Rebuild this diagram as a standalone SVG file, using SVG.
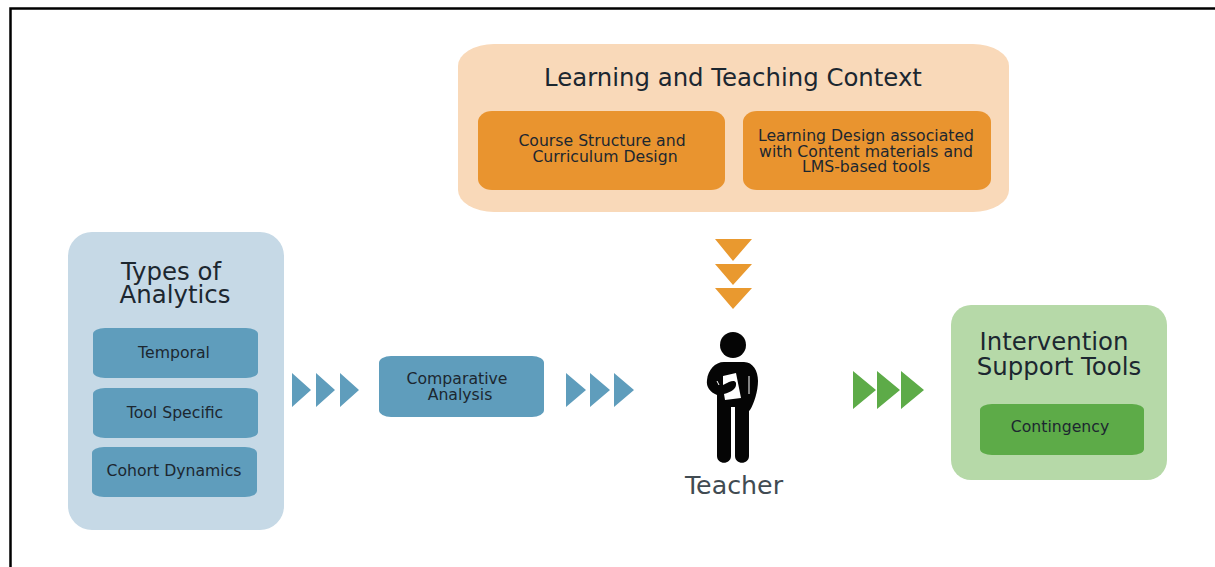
<svg xmlns="http://www.w3.org/2000/svg" width="1215" height="567" viewBox="0 0 1215 567">
<style>
text{font-family:"DejaVu Sans","Liberation Sans",sans-serif;text-anchor:middle;fill:#1c2730}
.t{font-size:24.4px}.s{font-size:15.7px}
.bo{fill:#c6d9e6}.bi{fill:#5f9dbc}.oo{fill:#f9d9b9}.oi{fill:#e9942f}.go{fill:#b6d9a8}.gi{fill:#5dab48}
.ab{fill:#5f9dbc}.ao{fill:#e9992f}.ag{fill:#5dab48}
</style>
<rect width="1215" height="567" fill="#fff"/>
<path d="M10.500 567V8.500H1215" fill="none" stroke="#000" stroke-width="2.500"/>
<g id="context">
<rect class="oo" x="458" y="44" width="551" height="168" rx="36" ry="22"/>
<text class="t" x="733" y="86">Learning and Teaching Context</text>
</g>
<g id="course">
<rect class="oi" x="478" y="111" width="247" height="79" rx="14" ry="11"/>
<text class="s" x="602" y="146">Course Structure and</text>
<text class="s" x="605" y="162">Curriculum Design</text>
</g>
<g id="learning-design">
<rect class="oi" x="743" y="111" width="248" height="79" rx="14" ry="11"/>
<text class="s" x="866" y="141">Learning Design associated</text>
<text class="s" x="866" y="156.500">with Content materials and</text>
<text class="s" x="866" y="172">LMS-based tools</text>
</g>
<g id="types">
<rect class="bo" x="68" y="232" width="216" height="298" rx="24"/>
<text class="t" x="171" y="280">Types of</text>
<text class="t" x="175" y="303">Analytics</text>
</g>
<g id="temporal">
<rect class="bi" x="93" y="328" width="165" height="50" rx="12" ry="6"/>
<text class="s" x="174" y="358">Temporal</text>
</g>
<g id="tool-specific">
<rect class="bi" x="93" y="388" width="165" height="50" rx="12" ry="6"/>
<text class="s" x="175" y="418">Tool Specific</text>
</g>
<g id="cohort">
<rect class="bi" x="92" y="447" width="165" height="50" rx="12" ry="6"/>
<text class="s" x="174" y="476">Cohort Dynamics</text>
</g>
<g id="comparative">
<rect class="bi" x="379" y="356" width="165" height="61" rx="12" ry="7"/>
<text class="s" x="457" y="384">Comparative</text>
<text class="s" x="460" y="400">Analysis</text>
</g>
<g id="teacher">
<circle cx="733" cy="345" r="13" fill="#050505"/>
<path fill="#050505" d="M724 362H744C753 362 758 371 758 381C758 391 754 404 750 410L749 411V456C749 465 735 465 735 456V407H731V456C731 465 717 465 717 456V395C710 392 706 387 707 380C708 370 715 362 724 362Z"/>
<path fill="#fff" d="M723 376L736 373L741 398L725 400L724 394C731 392 737 389 736 383C735 380 732 381 729 382L723 385Z"/>
<path fill="none" stroke="#fff" stroke-width="1" d="M749 376L749 394M717 381L719 385"/>
<text x="734" y="494" style="font-size:25.300px;fill:#414b52">Teacher</text>
</g>
<g id="intervention">
<rect class="go" x="951" y="305" width="216" height="175" rx="20"/>
<text class="t" x="1054" y="350">Intervention</text>
<text class="t" x="1059" y="375">Support Tools</text>
</g>
<g id="contingency">
<rect class="gi" x="980" y="404" width="164" height="51" rx="12" ry="6"/>
<text class="s" x="1060" y="432">Contingency</text>
</g>
<g id="connectors">
<path class="ab" d="M292 373L311 390L292 407ZM316 373L335 390L316 407ZM340 373L359 390L340 407Z"/>
<path class="ab" d="M566 373L586 390L566 407ZM590 373L610 390L590 407ZM614 373L634 390L614 407Z"/>
<path class="ao" d="M715 239H752L733 261ZM715 264H752L733 285ZM715 288H752L733 309Z"/>
<path class="ag" d="M853 371L876 390L853 409ZM877 371L900 390L877 409ZM901 371L924 390L901 409Z"/>
</g>
</svg>
